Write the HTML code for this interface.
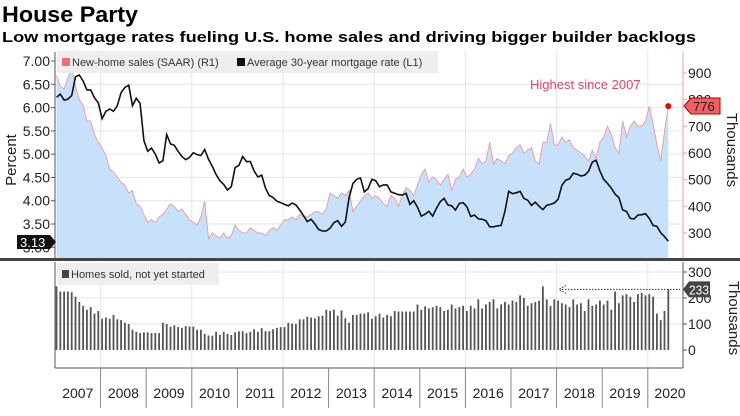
<!DOCTYPE html>
<html><head><meta charset="utf-8"><style>
body{margin:0;background:#fff}
svg{display:block;font-family:"Liberation Sans",sans-serif}
</style></head><body>
<svg id="c" width="740" height="416" viewBox="0 0 740 416">
<text x="2" y="22" font-size="22" font-weight="bold" textLength="136" lengthAdjust="spacingAndGlyphs">House Party</text>
<text x="2" y="42" font-size="15" font-weight="bold" textLength="694" lengthAdjust="spacingAndGlyphs">Low mortgage rates fueling U.S. home sales and driving bigger builder backlogs</text>
<g id="grid"></g>
<g id="top"></g>
<g id="bot"></g>
</svg>
<script>
const NS="http://www.w3.org/2000/svg";
const years=["2007","2008","2009","2010","2011","2012","2013","2014","2015","2016","2017","2018","2019","2020"];
const rate=[6.22,6.29,6.16,6.18,6.26,6.66,6.70,6.57,6.38,6.38,6.21,6.10,
5.76,5.92,5.97,5.92,6.04,6.32,6.43,6.48,6.04,6.20,6.09,5.29,
5.06,5.13,5.00,4.81,4.86,5.42,5.22,5.19,5.06,4.95,4.88,4.93,
5.03,4.99,4.97,5.10,4.89,4.74,4.56,4.43,4.35,4.23,4.30,4.71,
4.76,4.95,4.84,4.84,4.64,4.51,4.55,4.27,4.11,4.07,3.99,3.96,
3.92,3.89,3.95,3.91,3.80,3.68,3.55,3.60,3.50,3.38,3.35,3.35,
3.41,3.53,3.57,3.45,3.54,4.07,4.37,4.46,4.49,4.19,4.26,4.46,
4.43,4.30,4.34,4.34,4.19,4.16,4.13,4.12,4.16,3.92,4.00,3.86,
3.67,3.71,3.77,3.67,3.84,3.98,4.05,3.91,3.89,3.80,3.94,3.96,
3.87,3.66,3.69,3.61,3.60,3.57,3.44,3.44,3.46,3.47,3.77,4.20,
4.15,4.17,4.20,4.05,4.01,3.90,3.97,3.88,3.81,3.90,3.92,3.95,
4.03,4.33,4.44,4.47,4.59,4.57,4.53,4.55,4.63,4.83,4.87,4.64,
4.46,4.37,4.27,4.14,4.07,3.80,3.77,3.62,3.61,3.69,3.70,3.72,
3.62,3.47,3.45,3.31,3.23,3.13];
const sales=[890,850,840,880,920,850,800,780,720,720,670,640,
620,590,540,530,510,490,480,450,460,410,400,370,
340,350,340,360,370,390,410,400,380,390,370,350,
340,330,360,420,280,300,290,280,300,280,290,330,
310,300,300,320,310,300,300,290,310,320,310,330,
350,350,360,350,370,360,360,370,380,380,370,390,
450,440,430,450,440,460,380,400,420,440,450,430,
440,430,410,400,440,430,400,440,470,460,440,480,
520,540,490,510,500,480,500,520,460,500,510,540,
510,520,540,580,560,570,640,560,580,570,560,590,
600,620,630,600,610,620,570,560,640,640,710,630,
630,660,640,650,620,610,600,590,570,610,580,640,
660,700,670,620,600,720,660,700,720,700,700,720,
775,710,630,570,680,776];
const backlog=[245,225,225,225,222,205,185,170,155,165,140,150,
120,125,120,135,118,115,105,100,78,70,65,68,
68,65,65,65,105,100,90,95,88,85,92,90,
90,78,78,62,56,55,70,58,70,62,58,68,
72,72,65,70,80,70,84,72,72,80,85,88,
88,105,102,100,118,118,128,125,122,130,132,155,
150,155,132,152,122,105,135,135,140,140,145,120,
130,140,125,135,130,150,148,148,148,148,148,175,
155,168,160,165,170,165,150,155,175,160,165,170,
150,170,160,195,160,175,185,195,160,175,185,175,
190,185,210,200,170,180,185,190,245,195,170,195,
190,180,175,165,195,175,180,150,195,170,175,190,
175,190,155,225,180,210,215,205,185,215,220,210,
215,205,140,115,150,233];
const leftTicks=["3.00","3.50","4.00","4.50","5.00","5.50","6.00","6.50","7.00"];
const rightTicks=["300","400","500","600","700","800","900"];
const botTicks=["0","100","200","300"];

const X=i=>55+3.8*i+1.5;
const yL=v=>61+(7-v)*46.57;
const yR=v=>73+(900-v)*0.2667;
const yB=v=>350-v*0.26;
function el(tag,a,parent,txt){const e=document.createElementNS(NS,tag);for(const k in a)e.setAttribute(k,a[k]);if(txt!==undefined)e.textContent=txt;parent.appendChild(e);return e;}
const svg=document.getElementById('c'),G=document.getElementById('grid'),T=document.getElementById('top'),B=document.getElementById('bot');

leftTicks.forEach(t=>{const v=+t;if(v>3&&v<7){const g=el('line',{x1:55,x2:683,y1:yL(v),y2:yL(v),stroke:'#e6e6e6'},G);

}});
botTicks.forEach(t=>{const v=+t;if(v>0){const g=el('line',{x1:55,x2:683,y1:yB(v),y2:yB(v),stroke:'#e6e6e6'},G);

}});
for(let k=1;k<years.length;k+=2){const x=55+3.8*12*k;
const g=el('line',{x1:x,x2:x,y1:50,y2:258,stroke:'#e6e6e6'},G);


const g2=el('line',{x1:x,x2:x,y1:262,y2:368,stroke:'#e6e6e6'},G);

}

let d='M'+X(0)+' 258';sales.forEach((v,i)=>d+=' L'+X(i).toFixed(1)+' '+yR(v).toFixed(1));d+=' L'+X(sales.length-1)+' 258 Z';
const area=el('path',{d:d,fill:'#c8e1fb'},T);


let dl='';sales.forEach((v,i)=>dl+=(i?' L':'M')+X(i).toFixed(1)+' '+yR(v).toFixed(1));
const sl=el('path',{d:dl,fill:'none',stroke:'#e8a0aa','stroke-width':1},T);


let dr='';rate.forEach((v,i)=>dr+=(i?' L':'M')+X(i).toFixed(1)+' '+yL(v).toFixed(1));
const rl=el('path',{d:dr,fill:'none',stroke:'#111','stroke-width':1.6},T);


const last=sales.length-1;
const dot=el('circle',{cx:X(last),cy:yR(sales[last]),r:3,fill:'#e00'},T);


const hs=el('text',{x:530,y:89,'font-size':13,fill:'#e0476b'},T,'Highest since 2007');



const la=el('line',{x1:55,x2:55,y1:52,y2:258,stroke:'#555'},T);


const ra=el('line',{x1:683,x2:683,y1:52,y2:258,stroke:'#e8a0aa'},T);


leftTicks.forEach(t=>{const y=yL(+t);
const tl=el('text',{x:50,y:y+5,'font-size':14,'text-anchor':'end',fill:'#222'},T,t);


el('line',{x1:51,x2:55,y1:y,y2:y,stroke:'#555'},T);});
rightTicks.forEach(t=>{const y=yR(+t);
const tl=el('text',{x:688,y:y+5,'font-size':14,fill:'#222'},T,t);


el('line',{x1:683,x2:687,y1:y,y2:y,stroke:'#e8a0aa'},T);});
const t1=el('path',{d:'M17 235 H50 L56 242 L50 249 H17 Z',fill:'#111'},T);


const t1t=el('text',{x:20,y:247,'font-size':13,fill:'#fff'},T,'3.13');


const t2=el('path',{d:'M684 106 L691 98 H720 V114 H691 Z',fill:'#f06060',stroke:'#a00'},T);


const t2t=el('text',{x:693,y:111,'font-size':13,fill:'#222'},T,'776');


const lg=el('rect',{x:57,y:51,width:381,height:22,fill:'#eeeeee'},T);


el('rect',{x:62,y:58,width:8,height:8,fill:'#f07070'},T);
const l1=el('text',{x:72,y:66,'font-size':11,fill:'#333'},T,'New-home sales (SAAR) (R1)');


el('rect',{x:237,y:58,width:8,height:8,fill:'#111'},T);
const l2=el('text',{x:247,y:66,'font-size':11,fill:'#333'},T,'Average 30-year mortgage rate (L1)');


const pt=el('text',{x:0,y:0,'font-size':15,fill:'#222','text-anchor':'middle',transform:'translate(16,160) rotate(-90)'},T,'Percent');


const th=el('text',{x:0,y:0,'font-size':15,fill:'#222','text-anchor':'middle',transform:'translate(727,150) rotate(90)'},T,'Thousands');


const dv=el('rect',{x:0,y:258,width:740,height:3,fill:'#444'},svg);



backlog.forEach((v,i)=>{const b=el('rect',{x:X(i)-0.9,y:yB(v),width:1.8,height:yB(0)-yB(v),fill:'#555'},B);

});
const bx=el('line',{x1:55,x2:683,y1:368,y2:368,stroke:'#555'},B);


el('line',{x1:55,x2:55,y1:262,y2:368,stroke:'#555'},B);
el('line',{x1:683,x2:683,y1:262,y2:368,stroke:'#555'},B);
botTicks.forEach(t=>{const y=yB(+t);
const tl=el('text',{x:688,y:y+5,'font-size':14,fill:'#222'},B,t);


el('line',{x1:683,x2:687,y1:y,y2:y,stroke:'#555'},B);});
years.forEach((yr,k)=>{const x0=55+3.8*12*k;
if(k>0)el('line',{x1:x0,x2:x0,y1:368,y2:408,stroke:'#888'},B);
const yl=el('text',{x:Math.min(x0+22.8,670),y:398,'font-size':14,'text-anchor':'middle',fill:'#222'},B,yr);

});
const bl=el('rect',{x:57,y:263,width:162,height:22,fill:'#eeeeee'},B);


el('rect',{x:62,y:270,width:7,height:8,fill:'#444'},B);
const blt=el('text',{x:71,y:278,'font-size':11,fill:'#333'},B,'Homes sold, not yet started');


const ar=el('line',{x1:562,x2:680,y1:yB(backlog[last]),y2:yB(backlog[last]),stroke:'#333','stroke-dasharray':'1.5,1.5'},B);


el('path',{d:`M566 ${yB(233)-4} L559 ${yB(233)} L566 ${yB(233)+4}`,fill:'none',stroke:'#333','stroke-dasharray':'1.5,1.5'},B);
const bt=el('path',{d:`M683 ${yB(233)} L689 ${yB(233)-8} H710 V${yB(233)+8} H689 Z`,fill:'#444'},B);


const btt=el('text',{x:689,y:yB(233)+5,'font-size':13,fill:'#fff',textLength:20,lengthAdjust:'spacingAndGlyphs'},B,'233');


const bth=el('text',{x:0,y:0,'font-size':15,fill:'#222','text-anchor':'middle',transform:'translate(729,318) rotate(90)'},B,'Thousands');


</script>
</body></html>
